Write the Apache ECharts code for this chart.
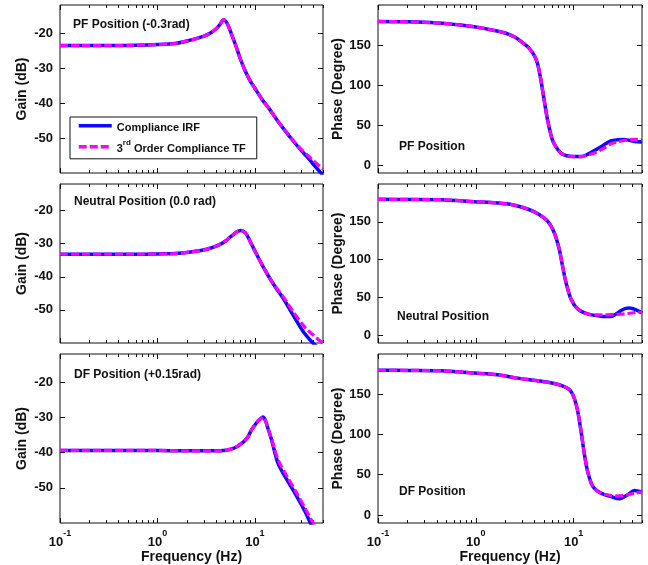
<!DOCTYPE html>
<html>
<head>
<meta charset="utf-8">
<script src="https://cdn.jsdelivr.net/npm/echarts@6/dist/echarts.min.js"></script>
<style>
  html, body { margin: 0; padding: 0; background: #fff; }
  #main { width: 648px; height: 565px; }
</style>
</head>
<body>
<div id="main"></div>
<script>
// ---- data ----
var pfGainFreq = [0.1, 0.3, 0.6, 1, 1.5, 2, 2.5, 3, 3.5, 4, 4.4, 4.75, 5.1, 5.5, 6, 6.5, 7, 8, 9, 10, 12, 14, 17, 20, 25, 30, 35, 40, 45, 50];
var pfGainIRF = [-23.6, -23.6, -23.5, -23.3, -23.0, -22.3, -21.6, -20.9, -20.0, -18.8, -17.5, -16.2, -16.9, -18.9, -21.7, -24.3, -27.0, -31.0, -33.8, -35.8, -39.2, -41.6, -45.0, -47.6, -51.0, -53.6, -55.6, -57.6, -59.2, -60.6];
var pfGainTF = [-23.6, -23.6, -23.5, -23.3, -23.0, -22.3, -21.6, -20.9, -20.0, -18.8, -17.5, -16.2, -16.9, -18.9, -21.7, -24.3, -27.0, -31.0, -33.8, -35.8, -39.2, -41.6, -45.0, -47.5, -50.9, -53.3, -55.0, -56.5, -57.8, -58.9];

var pfPhaseFreq = [0.1, 0.2, 0.4, 0.7, 1, 1.5, 2, 2.5, 3, 3.5, 4, 4.3, 4.6, 5, 5.4, 6, 6.5, 7.4, 8.5, 10, 12, 14, 16.3, 20, 24, 28, 33, 38, 42, 50];
var pfPhaseIRF = [179.5, 179, 177.6, 175, 172.5, 168.5, 165, 160, 153, 146, 136, 125.5, 108, 81, 57, 33, 24, 15, 11.5, 10.5, 10.5, 13.5, 18, 24.5, 30, 31.5, 32, 30.5, 29.5, 28.7];
var pfPhaseTF = [179.5, 179, 177.6, 175, 172.5, 168.5, 165, 160, 153, 146, 136, 125.5, 108, 81, 57, 33, 24, 15, 11.5, 10.5, 10.5, 12.5, 15, 20.5, 26.5, 29, 30.8, 31.8, 32, 32];

var ntGainFreq = [0.1, 0.3, 0.7, 1, 1.5, 2.2, 3.2, 4.4, 5, 5.6, 6.5, 7.2, 7.7, 8.2, 9, 10, 12.2, 15.4, 19.5, 24.6, 31, 35, 39.4, 45, 50];
var ntGainIRF = [-33.2, -33.2, -33.2, -33.1, -33.0, -32.5, -31.7, -30.2, -29.2, -28.0, -26.5, -26.0, -26.4, -27.2, -29.5, -32.2, -37.1, -42.1, -46.5, -51.5, -56.4, -58.3, -60.0, -61.5, -62.5];
var ntGainTF = [-33.2, -33.2, -33.2, -33.1, -33.0, -32.5, -31.7, -30.2, -29.2, -28.0, -26.5, -26.0, -26.4, -27.2, -29.5, -32.2, -37.1, -42.1, -46.0, -50.5, -54.5, -56.2, -57.5, -59.0, -60.0];

var ntPhaseFreq = [0.1, 0.2, 0.44, 0.96, 1.67, 2.37, 3.38, 4.27, 5.42, 6.34, 7.13, 7.7, 8.35, 9.4, 11, 13.9, 19, 24.1, 27, 30.5, 34, 37.2, 41, 45.2, 50];
var ntPhaseIRF = [179.8, 179.6, 179.3, 176.7, 174.9, 172.7, 167, 161, 150.9, 135.6, 113.7, 91.8, 70, 48.1, 35, 28.4, 25.4, 25, 28, 32.8, 35.8, 36.3, 35, 32.8, 29.7];
var ntPhaseTF = [179.8, 179.6, 179.3, 176.7, 174.9, 172.7, 167, 161, 150.9, 135.6, 113.7, 91.8, 70, 48.1, 35, 28.4, 27.1, 27.5, 27.7, 28, 28.6, 29.3, 30, 30.6, 30.6];

var dfGainFreq = [0.1, 0.5, 1, 2, 3, 4.4, 6, 7.6, 8.5, 9.25, 10, 10.8, 11.5, 12.1, 12.8, 13.4, 14.8, 17.3, 21, 26.6, 32.4, 37.8, 45, 50];
var dfGainIRF = [-39.4, -39.4, -39.4, -39.5, -39.5, -39.5, -38.8, -37.0, -35.5, -33.5, -32.2, -31.0, -30.3, -29.9, -30.8, -32.5, -36.3, -43.1, -47.4, -52.2, -56.5, -60.4, -64, -66];
var dfGainTF = [-39.4, -39.4, -39.4, -39.5, -39.5, -39.5, -38.8, -37.0, -35.5, -33.5, -32.2, -31.0, -30.3, -29.9, -30.8, -32.5, -36.0, -42.1, -46.4, -51.3, -55.6, -59.0, -62.5, -64.5];

var dfPhaseFreq = [0.1, 0.2, 0.44, 0.96, 1.67, 2.67, 4.27, 6.34, 8, 9, 9.77, 10.4, 11, 11.9, 12.9, 13.9, 15.7, 19, 24.1, 29.4, 35.7, 41.8, 50];
var dfPhaseIRF = [179.8, 179.6, 179.2, 176.3, 174.2, 170, 166.7, 163.3, 159.6, 156, 150, 141, 129.2, 104.2, 75, 54.2, 35.4, 27.1, 22.9, 20, 25, 30.4, 28.3];
var dfPhaseTF = [179.8, 179.6, 179.2, 176.3, 174.2, 170, 166.7, 163.3, 159.6, 156, 150, 141, 129.2, 104.2, 75, 54.2, 35.4, 27.1, 24.2, 23.75, 25, 27.1, 28.3];

var majorX = [0.1, 1, 10];
var minorX = [0.2, 0.3, 0.4, 0.5, 0.6, 0.7, 0.8, 0.9, 2, 3, 4, 5, 6, 7, 8, 9, 20, 30, 40, 50];
var gainTicks = [-50, -40, -30, -20];
var phaseTicks = [0, 50, 100, 150];
var gainTitles = ['PF Position (-0.3rad)', 'Neutral Position (0.0 rad)', 'DF Position (+0.15rad)'];
var phaseTitles = ['PF Position', 'Neutral Position', 'DF Position'];
var seriesNames = ['Compliance IRF', '3rd Order Compliance TF'];

// ---- layout ----
var FONT = 'Liberation Sans, Arial, Helvetica, sans-serif';
var grids = [
  {left: 60, top: 5, width: 263, height: 168},
  {left: 378, top: 5, width: 264, height: 168},
  {left: 60, top: 184, width: 263, height: 159},
  {left: 378, top: 184, width: 264, height: 159},
  {left: 60, top: 354, width: 263, height: 169},
  {left: 378, top: 354, width: 264, height: 169}
];
grids.forEach(function (g) {
  g.show = true; g.borderColor = '#111'; g.borderWidth = 1; g.backgroundColor = '#fff';
});

var panels = [
  {freq: pfGainFreq, irf: pfGainIRF, tf: pfGainTF, gain: true},
  {freq: pfPhaseFreq, irf: pfPhaseIRF, tf: pfPhaseTF, gain: false},
  {freq: ntGainFreq, irf: ntGainIRF, tf: ntGainTF, gain: true},
  {freq: ntPhaseFreq, irf: ntPhaseIRF, tf: ntPhaseTF, gain: false},
  {freq: dfGainFreq, irf: dfGainIRF, tf: dfGainTF, gain: true},
  {freq: dfPhaseFreq, irf: dfPhaseIRF, tf: dfPhaseTF, gain: false}
];

function makeXAxis(g, pos, ticks, len, labels) {
  var ax = {
    gridIndex: g, type: 'log', logBase: 10, min: 0.1, max: 50, position: pos,
    axisLine: {show: false, onZero: false}, splitLine: {show: false},
    axisTick: {inside: true, length: len, customValues: ticks, lineStyle: {color: '#111', width: 1}},
    axisLabel: {show: false}
  };
  if (labels) {
    ax.axisLabel = {
      show: true, customValues: majorX, margin: 6,
      formatter: function (v) {
        return '{b|10}{s|' + Math.round(Math.log(v) / Math.LN10) + '}';
      },
      rich: {
        b: {fontSize: 13, fontWeight: 'bold', fontFamily: FONT, color: '#111', lineHeight: 20, verticalAlign: 'bottom'},
        s: {fontSize: 9, fontWeight: 'bold', fontFamily: FONT, color: '#111', lineHeight: 12, verticalAlign: 'top'}
      }
    };
    ax.name = 'Frequency (Hz)';
    ax.nameLocation = 'middle';
    ax.nameGap = 24;
    ax.nameTextStyle = {fontSize: 14, fontWeight: 'bold', fontFamily: FONT, color: '#111'};
  }
  return ax;
}

function makeYAxis(g, gain, pos) {
  var ax = {
    gridIndex: g, type: 'value', position: pos,
    min: gain ? -60 : -10, max: gain ? -12 : 200,
    axisLine: {show: false, onZero: false}, splitLine: {show: false},
    axisTick: {inside: true, length: 5, customValues: gain ? gainTicks : phaseTicks, lineStyle: {color: '#111', width: 1}},
    axisLabel: {show: pos === 'left', customValues: gain ? gainTicks : phaseTicks, margin: 7,
      fontSize: 13, fontWeight: 'bold', fontFamily: FONT, color: '#111'}
  };
  if (pos === 'left') {
    ax.name = gain ? 'Gain (dB)' : 'Phase (Degree)';
    ax.nameLocation = 'middle';
    ax.nameGap = gain ? 31 : 32;
    ax.nameTextStyle = {fontSize: 14, fontWeight: 'bold', fontFamily: FONT, color: '#111'};
  }
  return ax;
}

var xAxes = [], yAxes = [], series = [];
panels.forEach(function (p, g) {
  var bottomRow = g >= 4;
  xAxes.push(makeXAxis(g, 'bottom', majorX, 5, bottomRow));
  xAxes.push(makeXAxis(g, 'bottom', minorX, 3, false));
  xAxes.push(makeXAxis(g, 'top', majorX, 5, false));
  xAxes.push(makeXAxis(g, 'top', minorX, 3, false));
  yAxes.push(makeYAxis(g, p.gain, 'left'));
  yAxes.push(makeYAxis(g, p.gain, 'right'));
  series.push({
    name: seriesNames[0], type: 'line', xAxisIndex: g * 4, yAxisIndex: g * 2,
    data: p.freq.map(function (f, i) { return [f, p.irf[i]]; }),
    symbol: 'none', smooth: 0.3, z: 2,
    lineStyle: {color: '#0a0aff', width: 3.5}, itemStyle: {color: '#0a0aff'}
  });
  series.push({
    name: seriesNames[1], type: 'line', xAxisIndex: g * 4, yAxisIndex: g * 2,
    data: p.freq.map(function (f, i) { return [f, p.tf[i]]; }),
    symbol: 'none', smooth: 0.3, z: 3,
    lineStyle: {color: '#ff00ff', width: 3.2, type: [8, 3]}, itemStyle: {color: '#ff00ff'}
  });
});

var titlePos = [
  {left: 73, top: 19}, {left: 399, top: 141},
  {left: 74, top: 196}, {left: 397, top: 311},
  {left: 74, top: 369}, {left: 399, top: 486}
];
var titles = titlePos.map(function (t, i) {
  return {
    text: (i % 2 === 0) ? gainTitles[i / 2] : phaseTitles[(i - 1) / 2],
    left: t.left, top: t.top, padding: 0,
    textStyle: {fontSize: 12, fontWeight: 'bold', fontFamily: FONT, color: '#111'}
  };
});

var option = {
  animation: false,
  backgroundColor: '#fff',
  title: titles,
  grid: grids,
  xAxis: xAxes,
  yAxis: yAxes,
  legend: {
    data: seriesNames,
    left: 70, top: 117, orient: 'vertical',
    backgroundColor: '#fff', borderColor: '#111', borderWidth: 1,
    padding: [4, 11, 4, 7], itemWidth: 33, itemHeight: 12, itemGap: 5,
    itemStyle: {opacity: 0},
    lineStyle: {width: 3.5},
    formatter: function (name) {
      if (name === seriesNames[1]) return '{b|3}{s|rd}{b| Order Compliance TF}';
      return '{b|' + name + '}';
    },
    textStyle: {
      fontSize: 11, fontWeight: 'bold', fontFamily: FONT, color: '#111',
      rich: {
        b: {fontSize: 11, fontWeight: 'bold', fontFamily: FONT, color: '#111', lineHeight: 16, verticalAlign: 'bottom'},
        s: {fontSize: 8, fontWeight: 'bold', fontFamily: FONT, color: '#111', lineHeight: 10, verticalAlign: 'top'}
      }
    }
  },
  series: series
};

var myChart = echarts.init(document.getElementById('main'));
myChart.setOption(option);
</script>
</body>
</html>
